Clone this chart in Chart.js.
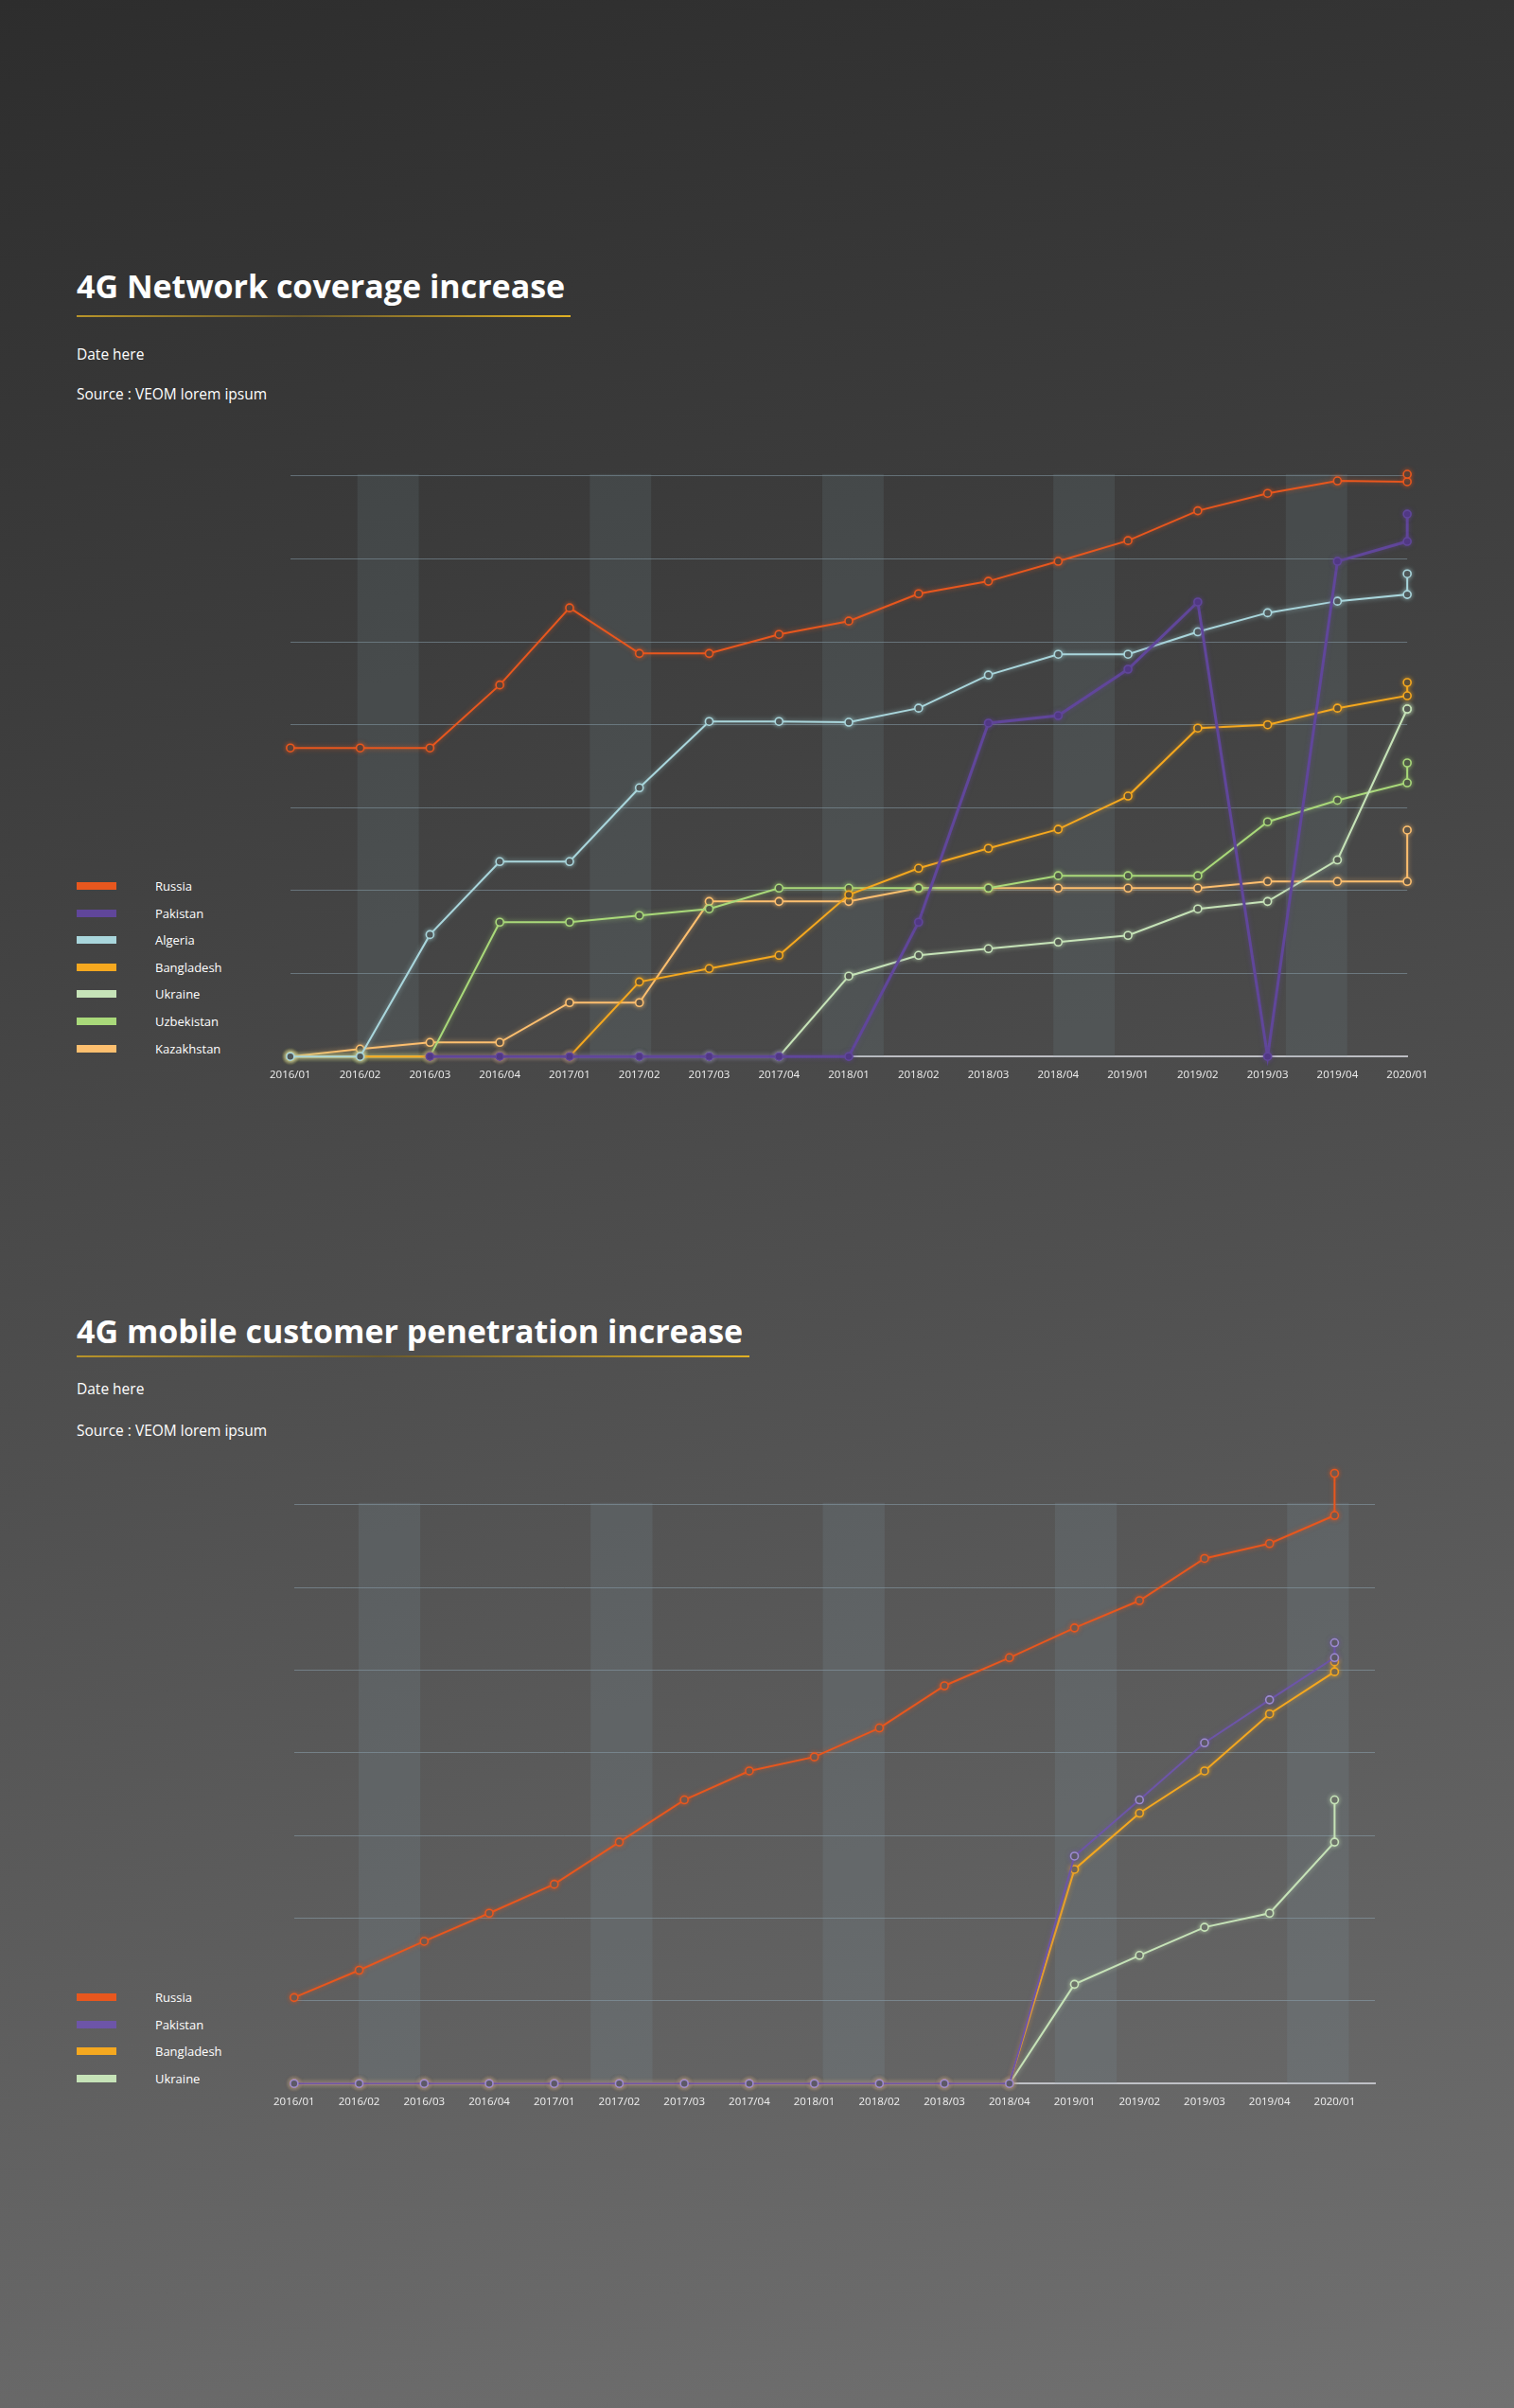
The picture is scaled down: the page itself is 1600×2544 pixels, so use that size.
<!DOCTYPE html>
<html>
<head>
<meta charset="utf-8">
<script src="https://cdn.jsdelivr.net/npm/chart.js@4.4.1/dist/chart.umd.min.js"></script>
<style>
  html, body { margin: 0; padding: 0; }
  body {
    width: 1600px; height: 2544px; position: relative; overflow: hidden;
    font-family: "Open Sans", sans-serif; color: #fff;
    background: linear-gradient(168deg, #2d2d2d 0%, #3c3c3c 25%, #505050 55%, #626262 80%, #717171 100%);
  }
  .title { position: absolute; left: 81px; font-size: 34px; font-weight: 700; line-height: 1; white-space: nowrap; }
  .rule { position: absolute; left: 81px; height: 2px;
    background: linear-gradient(90deg, #b8942a 0%, #6a5a2c 45%, #e0b024 100%); }
  .meta { position: absolute; left: 81px; font-size: 15.5px; line-height: 1; white-space: nowrap; }
  canvas { position: absolute; }
  .legend { position: absolute; left: 81px; }
  .legend .row { position: relative; height: 28.6px; font-size: 13px; }
  .legend .sw { position: absolute; left: 0; top: 10px; width: 42px; height: 8px; }
  .legend .tx { position: absolute; left: 83px; top: 5px; line-height: 18px; }
</style>
</head>
<body>
<div class="title" style="top:285px">4G Network coverage increase</div>
<div class="rule" style="top:333px;width:522px"></div>
<div class="meta" style="top:367px">Date here</div>
<div class="meta" style="top:409px">Source : VEOM lorem ipsum</div>
<canvas id="coverageChart" width="1250" height="730" style="left:272px;top:440px"></canvas>
<div class="legend" id="coverageLegend" style="top:922px"></div>

<div class="title" style="top:1389px">4G mobile customer penetration increase</div>
<div class="rule" style="top:1432px;width:711px"></div>
<div class="meta" style="top:1460px">Date here</div>
<div class="meta" style="top:1504px">Source : VEOM lorem ipsum</div>
<canvas id="penetrationChart" width="1240" height="740" style="left:276px;top:1520px"></canvas>
<div class="legend" id="penetrationLegend" style="top:2096px"></div>

<script>
"use strict";
// quarters on the x axis
const categories = ["2016/01", "2016/02", "2016/03", "2016/04", "2017/01", "2017/02", "2017/03", "2017/04",
    "2018/01", "2018/02", "2018/03", "2018/04", "2019/01", "2019/02", "2019/03", "2019/04", "2020/01"];

// --- 4G network coverage (values in grid units, 0..7) ---
const coverageNames = ["Russia", "Pakistan", "Algeria", "Bangladesh", "Ukraine", "Uzbekistan", "Kazakhstan"];
const coverageColors = ["#e8571e", "#60469a", "#a9d6dc", "#f5a81f", "#c6e3b8", "#a9d97a", "#fdbf6f"];
const russiaCov = [3.72, 3.72, 3.72, 4.48, 5.41, 4.86, 4.86, 5.09, 5.25, 5.58, 5.73, 5.97, 6.22, 6.58, 6.79, 6.94, 6.93];
const pakistanCov = [null, null, 0, 0, 0, 0, 0, 0, 0, 1.62, 4.02, 4.11, 4.67, 5.48, 0, 5.97, 6.21];
const algeriaCov = [0, 0, 1.47, 2.35, 2.35, 3.24, 4.04, 4.04, 4.03, 4.2, 4.6, 4.85, 4.85, 5.12, 5.35, 5.49, 5.57];
const bangladeshCov = [0, 0, 0, 0, 0, 0.9, 1.06, 1.22, 1.95, 2.27, 2.51, 2.74, 3.14, 3.96, 4.0, 4.2, 4.35];
const ukraineCov = [0, 0, 0, 0, 0, 0, 0, 0, 0.97, 1.22, 1.3, 1.38, 1.46, 1.78, 1.87, 2.37, 4.19];
const uzbekistanCov = [0, 0, 0, 1.62, 1.62, 1.7, 1.78, 2.03, 2.03, 2.03, 2.03, 2.18, 2.18, 2.18, 2.83, 3.09, 3.3];
const kazakhstanCov = [0, 0.09, 0.17, 0.17, 0.65, 0.65, 1.87, 1.87, 1.87, 2.03, 2.03, 2.03, 2.03, 2.03, 2.11, 2.11, 2.11];
// each series ends with a second marker on the last quarter
const coverageLast = [7.02, 6.54, 5.82, 4.51, 4.19, 3.54, 2.73];

// --- 4G mobile customer penetration ---
const penetrationNames = ["Russia", "Pakistan", "Bangladesh", "Ukraine"];
const penetrationColors = ["#e8571e", "#6d55a8", "#f5a81f", "#c6e3b8"];
const russiaPen = [1.04, 1.37, 1.72, 2.06, 2.41, 2.92, 3.43, 3.78, 3.95, 4.3, 4.81, 5.15, 5.51, 5.84, 6.35, 6.53, 6.87];
const pakistanPen = [0, 0, 0, 0, 0, 0, 0, 0, 0, 0, 0, 0, 2.75, 3.43, 4.12, 4.64, 5.15];
const bangladeshPen = [0, 0, 0, 0, 0, 0, 0, 0, 0, 0, 0, 0, 2.59, 3.27, 3.78, 4.47, 4.98];
const ukrainePen = [0, 0, 0, 0, 0, 0, 0, 0, 0, 0, 0, 0, 1.2, 1.55, 1.89, 2.06, 2.92];
const penetrationLast = [7.38, 5.33, 5.1, 3.43];

// shaded columns behind the plots, in x-axis units
const coverageBands = [0.96, 4.29, 7.62, 10.93, 14.26];
const penetrationBands = [0.99, 4.56, 8.13, 11.7, 15.27];
const gridTop = 7;

function buildPoints(values, last) {
    const pts = values.map((v, i) => ({ x: i, y: v }));
    pts.push({ x: values.length - 1, y: last });
    return pts;
}

const bandsPlugin = {
    id: "bands",
    beforeDatasetsDraw(chart, args, opts) {
        const { ctx, chartArea, scales } = chart;
        const top = scales.y.getPixelForValue(gridTop) - 2;
        ctx.save();
        ctx.fillStyle = opts.color;
        opts.starts.forEach(s => {
            const x1 = scales.x.getPixelForValue(s);
            const x2 = scales.x.getPixelForValue(s + opts.width);
            ctx.fillRect(x1, top, x2 - x1, chartArea.bottom - top);
        });
        ctx.restore();
    },
};

const glowPlugin = {
    id: "glow",
    beforeDatasetDraw(chart, args) {
        const ctx = chart.ctx;
        ctx.save();
        ctx.shadowColor = args.meta.controller.getDataset().borderColor + "99";
        ctx.shadowBlur = 5;
    },
    afterDatasetDraw(chart) {
        chart.ctx.restore();
    },
};

function makeChart(canvas, series, names, colors, lasts, opts) {
    const datasets = series.map((vals, i) => ({
        label: names[i],
        data: buildPoints(vals, lasts[i]),
        borderColor: colors[i],
        borderWidth: opts.widths ? opts.widths[i] : 2,
        pointRadius: 4,
        pointBorderWidth: 1.6,
        pointBorderColor: opts.pointBorders ? opts.pointBorders[i] : colors[i],
        pointBackgroundColor: opts.pointFills ? opts.pointFills[i] : opts.pointFill,
        tension: 0,
        clip: false,
    }));
    return new Chart(canvas.getContext("2d"), {
        type: "line",
        data: { datasets },
        plugins: [bandsPlugin, glowPlugin],
        options: {
            responsive: false,
            animation: false,
            layout: { padding: opts.padding },
            scales: {
                x: {
                    type: "linear",
                    min: 0,
                    max: opts.xMax,
                    grid: { display: false, drawTicks: false },
                    border: { display: true, color: "rgba(205,205,210,0.85)", width: 2 },
                    ticks: {
                        stepSize: 1,
                        includeBounds: false,
                        maxRotation: 0,
                        autoSkip: false,
                        padding: 13,
                        color: "#f0f0f0",
                        font: { family: "'Open Sans', sans-serif", size: 11.5 },
                        callback: (v) => categories[v] !== undefined ? categories[v] : "",
                    },
                },
                y: {
                    min: 0,
                    max: 7.5,
                    grid: { color: "rgba(150,178,192,0.45)", lineWidth: 1, drawTicks: false },
                    border: { display: false },
                    ticks: { display: false, stepSize: 1, includeBounds: false },
                },
            },
            plugins: {
                legend: { display: false },
                tooltip: { enabled: false },
                bands: { starts: opts.bands, width: opts.bandWidth, color: opts.bandColor },
            },
        },
    });
}

function buildLegend(el, names, colors) {
    names.forEach((n, i) => {
        const row = document.createElement("div");
        row.className = "row";
        row.innerHTML = `<div class="sw" style="background:${colors[i]}"></div><div class="tx">${n}</div>`;
        el.appendChild(row);
    });
}

makeChart(document.getElementById("coverageChart"),
    [russiaCov, pakistanCov, algeriaCov, bangladeshCov, ukraineCov, uzbekistanCov, kazakhstanCov],
    coverageNames, coverageColors, coverageLast, {
        padding: { left: 17, right: 24, top: 19, bottom: 14 },
        xMax: 16,
        widths: [2, 3, 2, 2, 2, 2, 2],
        pointFill: "#3e3e3e",
        pointFills: ["#3e3e3e", "#4e3680", "#3e3e3e", "#3e3e3e", "#3e3e3e", "#3e3e3e", "#3e3e3e"],
        bands: coverageBands,
        bandWidth: 0.88,
        bandColor: "rgba(120,140,150,0.16)",
    });

makeChart(document.getElementById("penetrationChart"),
    [russiaPen, pakistanPen, bangladeshPen, ukrainePen],
    penetrationNames, penetrationColors, penetrationLast, {
        padding: { left: 17, right: 63, top: 26, bottom: 19 },
        xMax: 16.62,
        widths: [2, 2, 2, 2],
        pointFill: "#5a5a5a",
        pointBorders: ["#e8571e", "#9c8ad0", "#f5a81f", "#c6e3b8"],
        bands: penetrationBands,
        bandWidth: 0.95,
        bandColor: "rgba(130,150,160,0.18)",
    });

buildLegend(document.getElementById("coverageLegend"), coverageNames, coverageColors);
buildLegend(document.getElementById("penetrationLegend"), penetrationNames, penetrationColors);
</script>
</body>
</html>
